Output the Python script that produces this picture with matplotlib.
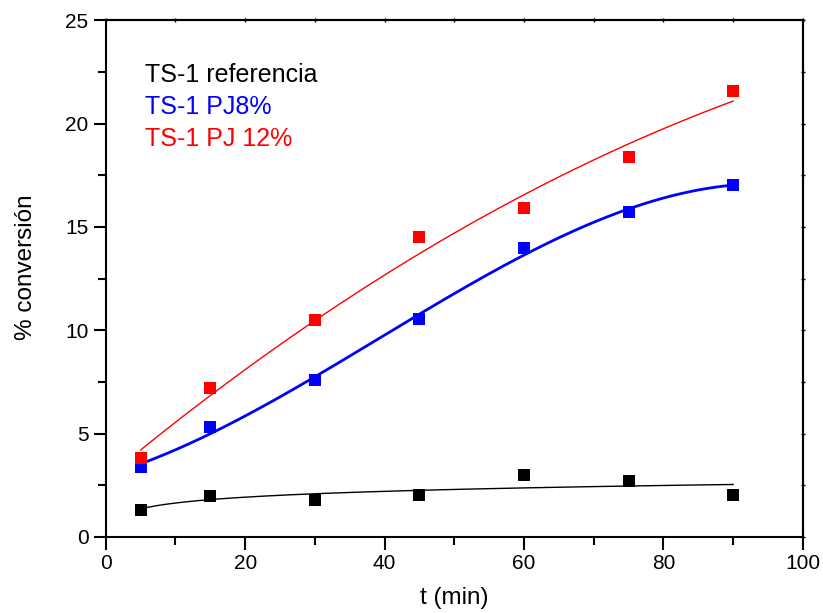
import numpy as np
import matplotlib
matplotlib.use('Agg')
import matplotlib.pyplot as plt
from matplotlib.ticker import MultipleLocator

plt.rcParams['font.family'] = ['Liberation Sans', 'DejaVu Sans']

t_min = [5, 15, 30, 45, 60, 75, 90]
ref = [1.3, 2.0, 1.8, 2.05, 3.0, 2.7, 2.05]
pj8 = [3.4, 5.3, 7.6, 10.55, 14.0, 15.7, 17.05]
pj12 = [3.8, 7.2, 10.5, 14.5, 15.9, 18.4, 21.6]
labels = ['TS-1 referencia', 'TS-1 PJ8%', 'TS-1 PJ 12%']

x = np.array(t_min, dtype=float)
xf = np.linspace(5, 90, 200)

# fits as in the original: log for reference, polynomials for the others
c_ref = np.polyfit(np.log(x), ref, 1)
c_pj8 = np.polyfit(x, pj8, 3)
c_pj12 = np.polyfit(x, pj12, 2)

fig = plt.figure(figsize=(8.23, 6.13), dpi=100)
ax = fig.add_axes([0.1285, 0.124, 0.847, 0.843])

ax.plot(xf, np.polyval(c_ref, np.log(xf)), color='black', lw=1.0)
ax.plot(xf, np.polyval(c_pj8, xf), color='#0000ff', lw=2.0)
ax.plot(xf, np.polyval(c_pj12, xf), color='#ff0000', lw=1.0)

ax.plot(t_min, ref, 's', color='black', ms=8, mew=0)
ax.plot(t_min, pj8, 's', color='#0000ff', ms=8, mew=0)
ax.plot(t_min, pj12, 's', color='#ff0000', ms=8, mew=0)

ax.set_xlim(0, 100)
ax.set_ylim(0, 25)
ax.xaxis.set_major_locator(MultipleLocator(20))
ax.xaxis.set_minor_locator(MultipleLocator(10))
ax.yaxis.set_major_locator(MultipleLocator(5))
ax.yaxis.set_minor_locator(MultipleLocator(2.5))

for s in ax.spines.values():
    s.set_linewidth(1.5)

ax.tick_params(which='major', direction='out', length=9, width=1.5, labelsize=15,
               top=False, right=False)
ax.tick_params(which='minor', direction='out', length=6, width=1.5,
               top=False, right=False)
ax.tick_params(axis='x', pad=3)

sec_x = ax.secondary_xaxis('top')
sec_x.set_xticks(np.arange(0, 101, 10))
sec_x.tick_params(direction='inout', length=3, width=1, labelsize=0)
sec_x.set_xticklabels([])
sec_y = ax.secondary_yaxis('right')
sec_y.set_yticks(np.arange(0, 25.1, 2.5))
sec_y.tick_params(direction='inout', length=3, width=1)
sec_y.set_yticklabels([])
sec_x.spines['top'].set_linewidth(1.5)
sec_y.spines['right'].set_linewidth(1.5)

ax.set_xlabel('t (min)', fontsize=17.5, labelpad=10)
ax.set_ylabel('% conversión', fontsize=17.5)
ax.yaxis.set_label_coords(-0.099, 0.522)

colors = ['black', '#0000ff', '#ff0000']
for i, (lab, c) in enumerate(zip(labels, colors)):
    ax.text(5.7, 22.35 - i * 1.55, lab, color=c, fontsize=18, va='center')

fig.savefig('out.png', dpi=100)
